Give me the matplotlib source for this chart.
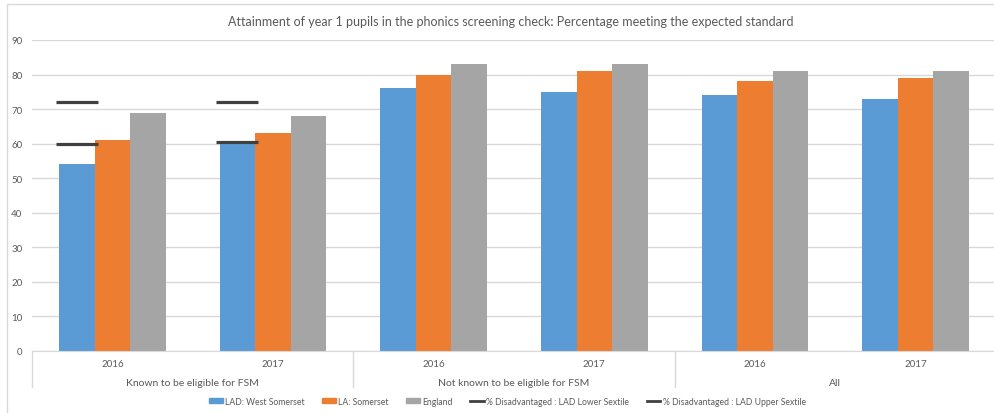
import numpy as np
import matplotlib
matplotlib.use('Agg')
import matplotlib.pyplot as plt
from matplotlib.lines import Line2D
from matplotlib.patches import Patch, Rectangle

# Phonics screening check: % of year 1 pupils meeting the expected standard
years = ['2016', '2017', '2016', '2017', '2016', '2017']
groups = ['Known to be eligible for FSM', 'Not known to be eligible for FSM', 'All']
west_somerset = [54, 60, 76, 75, 74, 73]
somerset = [61, 63, 80, 81, 78, 79]
england = [69, 68, 83, 83, 81, 81]
lower_sextile = [60, 60.5, np.nan, np.nan, np.nan, np.nan]
upper_sextile = [72, 72, np.nan, np.nan, np.nan, np.nan]

BLUE = '#5b9bd5'
ORANGE = '#ed7d31'
GREY = '#a5a5a5'
DARK = '#404040'
TXT = '#595959'
GRID = '#d9d9d9'

plt.rcParams['font.family'] = ['Lato', 'DejaVu Sans']

fig = plt.figure(figsize=(9.95, 4.14), dpi=100)
ax = fig.add_axes([32 / 995, 62 / 414, 963 / 995, 311 / 414])

x = np.arange(len(years))
w = 0.221
ax.bar(x - w, west_somerset, w, color=BLUE, zorder=2)
ax.bar(x, somerset, w, color=ORANGE, zorder=2)
ax.bar(x + w, england, w, color=GREY, zorder=2)

# sextile markers sit over the West Somerset bar
ax.plot(x - w, lower_sextile, linestyle='none', marker='_', ms=30, mew=2.3,
        color=DARK, zorder=3)
ax.plot(x - w, upper_sextile, linestyle='none', marker='_', ms=30, mew=2.3,
        color=DARK, zorder=3)

ax.set_ylim(0, 90)
ax.set_xlim(-0.5, 5.494)
ax.set_yticks(range(0, 91, 10))
ax.yaxis.grid(True, color=GRID, lw=1, zorder=0)
ax.set_axisbelow(True)
for s in ['top', 'right', 'left']:
    ax.spines[s].set_visible(False)
ax.spines['bottom'].set_color(GRID)
ax.tick_params(axis='y', length=0, labelsize=7, labelcolor=TXT, pad=7)
ax.tick_params(axis='x', length=0)
ax.set_xticks(x)
ax.set_xticklabels([])

# two-level category axis
trans = ax.get_xaxis_transform()
for i, yr in enumerate(years):
    ax.text(i, -0.04, yr, transform=trans, ha='center', va='center',
            fontsize=7, color=TXT)
for j, g in enumerate(groups):
    ax.text(2 * j + 0.5, -0.1, g, transform=trans, ha='center', va='center',
            fontsize=7.5, color=TXT)
for sep in [-0.5, 1.5, 3.5]:
    ax.plot([sep, sep], [0, -0.117], transform=trans, color=GRID, lw=1,
            clip_on=False)

fig.text(0.513, 0.947,
         'Attainment of year 1 pupils in the phonics screening check: '
         'Percentage meeting the expected standard',
         ha='center', va='center', fontsize=9, color=TXT)

# outer chart frame
fig.patches.append(Rectangle((7 / 995, -0.1), 1.1, (414 - 5) / 414 + 0.1,
                             transform=fig.transFigure, fill=False,
                             edgecolor=GRID, lw=1))

handles = [
    Patch(color=BLUE, label='LAD: West Somerset'),
    Patch(color=ORANGE, label='LA: Somerset'),
    Patch(color=GREY, label='England'),
    Line2D([], [], color=DARK, lw=2, label='% Disadvantaged : LAD Lower Sextile'),
    Line2D([], [], color=DARK, lw=2, label='% Disadvantaged : LAD Upper Sextile'),
]
fig.legend(handles=handles, loc='center', bbox_to_anchor=(0.51, 0.028), ncol=5,
           frameon=False, fontsize=6.2, labelcolor=TXT, handlelength=1.6,
           handleheight=0.5, handletextpad=0.3, columnspacing=2.0)

fig.savefig('out.png', dpi=100)
